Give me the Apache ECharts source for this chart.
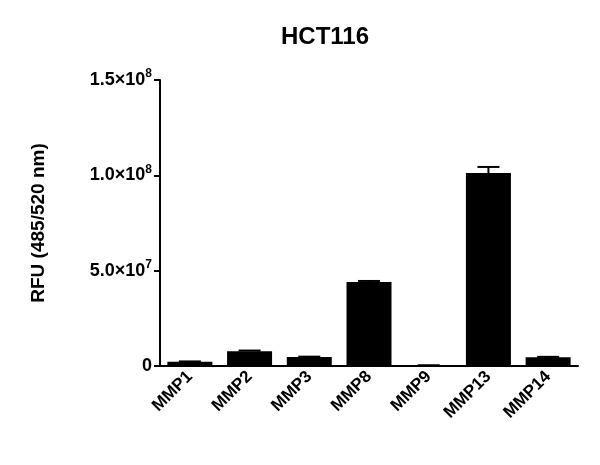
<!DOCTYPE html>
<html>
<head>
<meta charset="utf-8">
<script src="https://cdn.jsdelivr.net/npm/echarts@6/dist/echarts.min.js"></script>
<style>html,body{margin:0;padding:0;background:#fff}#chart{width:600px;height:465px}</style>
</head>
<body>
<div id="chart"></div>
<script>
const categories = ['MMP1', 'MMP2', 'MMP3', 'MMP8', 'MMP9', 'MMP13', 'MMP14'];
const values = [2.2e6, 7.8e6, 4.7e6, 4.4e7, 0.3e6, 1.012e8, 4.6e6];
const errors = [0.2e6, 0.3e6, 0.2e6, 0.6e6, 0.1e6, 3.2e6, 0.2e6];
const yTicks = { 0: '0', 50000000: '5.0', 100000000: '1.0', 150000000: '1.5' };
const yExp = { 50000000: '7', 100000000: '8', 150000000: '8' };

const chart = echarts.init(document.getElementById('chart'));

// error bar renderer: vertical line from value to value+err with a cap
function renderError(params, api) {
	const i = api.value(0);
	const top = api.coord([i, api.value(2)]);
	const base = api.coord([i, api.value(1)]);
	const hw = 11;
	const style = { stroke: '#000', lineWidth: 2 };
	return {
		type: 'group',
		children: [
			{ type: 'line', shape: { x1: top[0], y1: base[1], x2: top[0], y2: top[1] }, style },
			{ type: 'line', shape: { x1: top[0] - hw, y1: top[1], x2: top[0] + hw, y2: top[1] }, style }
		]
	};
}

chart.setOption({
	animation: false,
	title: {
		text: 'HCT116', left: 320, top: 20, textAlign: 'center',
		textStyle: { fontFamily: 'Liberation Sans', fontWeight: 'bold', fontSize: 24, color: '#000' }
	},
	grid: { left: 160, right: 22, top: 80, bottom: 99 },
	xAxis: {
		type: 'category', data: categories,
		axisLine: { lineStyle: { color: '#000', width: 2 } },
		axisTick: { show: false },
		axisLabel: {
			rotate: 45, color: '#000', fontWeight: 'bold', fontSize: 17, margin: 8,
			fontFamily: 'Liberation Sans', interval: 0
		}
	},
	yAxis: {
		type: 'value', min: 0, max: 150000000, interval: 50000000,
		name: 'RFU (485/520 nm)', nameLocation: 'middle', nameGap: 112,
		nameTextStyle: { fontFamily: 'Liberation Sans', fontWeight: 'bold', fontSize: 19, color: '#000' },
		splitLine: { show: false },
		axisLine: { show: true, lineStyle: { color: '#000', width: 2 } },
		axisTick: { show: true, length: 6, lineStyle: { width: 2 } },
		axisLabel: {
			color: '#000', fontFamily: 'Liberation Sans', fontWeight: 'bold', fontSize: 18, margin: 8,
			formatter: v => v === 0 ? '{m|0}' : '{m|' + yTicks[v] + '×10}{s|' + yExp[v] + '}',
			rich: {
				m: { fontFamily: 'Liberation Sans', fontWeight: 'bold', fontSize: 18, color: '#000' },
				s: { fontFamily: 'Liberation Sans', fontWeight: 'bold', fontSize: 12, color: '#000', verticalAlign: 'top', padding: [0, 0, 12, 0] }
			}
		}
	},
	series: [
		{ type: 'bar', data: values, barWidth: 45, itemStyle: { color: '#000' } },
		{
			type: 'custom', renderItem: renderError, z: 3,
			data: values.map((v, i) => [i, v, v + errors[i]])
		}
	]
});
</script>
</body>
</html>
